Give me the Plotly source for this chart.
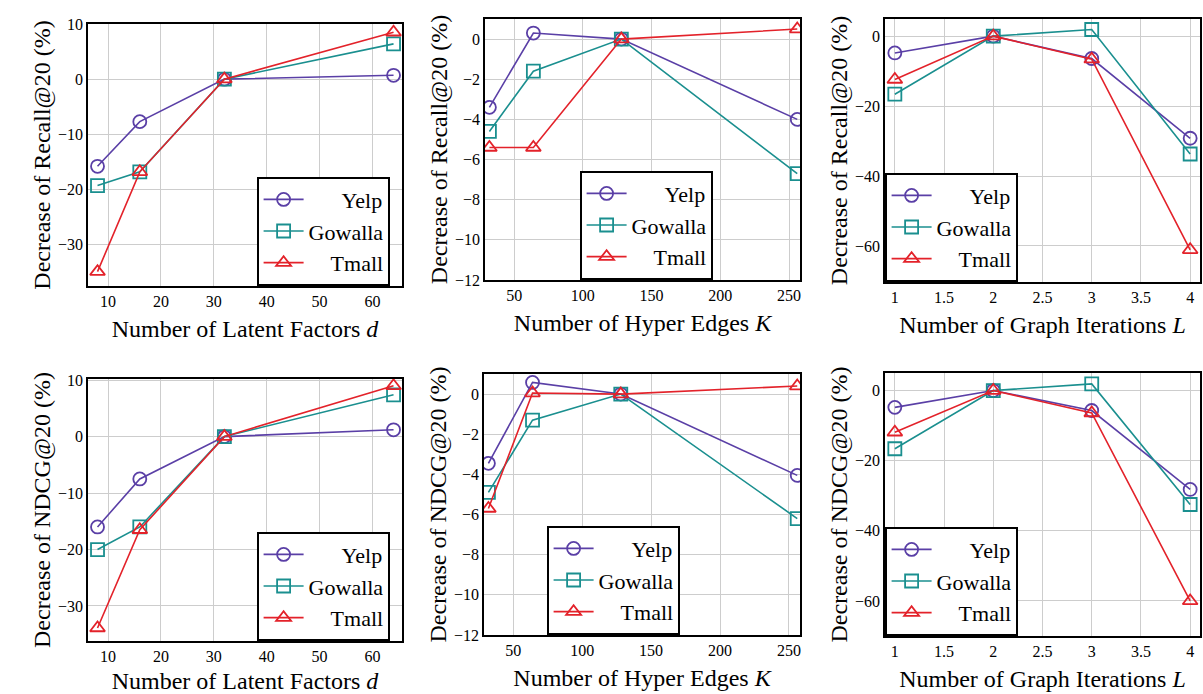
import plotly.graph_objects as go

# ---------------- data ----------------
series = ["Yelp", "Gowalla", "Tmall"]

d_vals = [8, 16, 32, 64]
k_vals = [32, 64, 128, 256]
l_vals = [1, 2, 3, 4]

recall_d = {"Yelp": [-15.8, -7.7, 0.0, 0.7],
            "Gowalla": [-19.3, -16.8, 0.0, 6.4],
            "Tmall": [-34.9, -16.8, 0.0, 8.5]}
recall_k = {"Yelp": [-3.4, 0.3, 0.0, -4.0],
            "Gowalla": [-4.6, -1.6, 0.0, -6.7],
            "Tmall": [-5.4, -5.4, 0.0, 0.5]}
recall_l = {"Yelp": [-4.8, 0.0, -6.4, -29.2],
            "Gowalla": [-16.6, 0.0, 1.9, -33.7],
            "Tmall": [-12.4, 0.0, -6.6, -61.1]}

ndcg_d = {"Yelp": [-16.0, -7.5, 0.0, 1.2],
          "Gowalla": [-20.0, -16.0, 0.0, 7.4],
          "Tmall": [-33.9, -16.5, 0.0, 9.0]}
ndcg_k = {"Yelp": [-3.45, 0.58, 0.0, -4.05],
          "Gowalla": [-4.9, -1.3, 0.0, -6.2],
          "Tmall": [-5.7, 0.05, 0.0, 0.4]}
ndcg_l = {"Yelp": [-4.8, 0.0, -5.7, -28.2],
          "Gowalla": [-16.6, 0.0, 1.9, -32.5],
          "Tmall": [-11.9, 0.0, -6.4, -60.0]}

x_titles = ["Number of Latent Factors <i>d</i>",
            "Number of Hyper Edges <i>K</i>",
            "Number of Graph Iterations <i>L</i>"]
y_titles = ["Decrease of Recall@20 (%)", "Decrease of NDCG@20 (%)"]

# ---------------- style ----------------
colors = {"Yelp": "#5a3fa6", "Gowalla": "#1a8f8f", "Tmall": "#e3222a"}
symbols = {"Yelp": "circle-open", "Gowalla": "square-open", "Tmall": "triangle-up-open"}
labels = {"Yelp": "\u00a0\u00a0\u00a0\u00a0\u00a0\u00a0Yelp",
          "Gowalla": "Gowalla",
          "Tmall": "\u00a0\u00a0\u00a0\u00a0Tmall"}
FONT = "Liberation Serif"
W, H = 1203, 694

# pixel boxes (left, right, top, bottom)
boxes = [
    (88, 402, 24, 286), (485, 800, 19, 280), (885, 1200, 19, 282),
    (88, 402, 379, 641), (484, 800, 374, 635), (885, 1200, 373, 636),
]
legend_pos = [(257, 286), (580, 280), (885, 282), (257, 641), (547, 635), (885, 636)]
xranges = [[6.2, 65.6], [28.8, 258], [0.9, 4.1]] * 2
yranges = [[-37.5, 10], [-12, 1], [-70.3, 4.9], [-36.2, 10.2], [-12, 1], [-70, 5]]
xdticks = [10, 50, 0.5] * 2
ydticks = [10, 2, 20, 10, 2, 20]

panels = [(d_vals, recall_d), (k_vals, recall_k), (l_vals, recall_l),
          (d_vals, ndcg_d), (k_vals, ndcg_k), (l_vals, ndcg_l)]

fig = go.Figure()
layout = {}
for i, (xv, data) in enumerate(panels):
    n = i + 1
    xa = "x" if n == 1 else f"x{n}"
    ya = "y" if n == 1 else f"y{n}"
    lg = "legend" if n == 1 else f"legend{n}"
    for s in series:
        fig.add_trace(go.Scatter(
            x=xv, y=data[s], name=labels[s], mode="lines+markers",
            xaxis=xa, yaxis=ya, legend=lg,
            line=dict(color=colors[s], width=1.6),
            marker=dict(symbol=symbols[s], size=13, color=colors[s],
                        line=dict(width=1.8, color=colors[s])),
        ))
    l, r, t, b = boxes[i]
    axis_common = dict(showline=True, mirror=True, linecolor="black", linewidth=1.6,
                       showgrid=True, gridcolor="#cdcdcd", gridwidth=1.3,
                       zeroline=False, ticks="", automargin=False,
                       tickfont=dict(family=FONT, size=16, color="black"))
    layout["xaxis" if n == 1 else f"xaxis{n}"] = dict(
        domain=[l / W, r / W], anchor=ya, range=xranges[i], dtick=xdticks[i],
        title=dict(text=x_titles[i % 3], standoff=11,
                   font=dict(family=FONT, size=24, color="black")),
        **axis_common)
    layout["yaxis" if n == 1 else f"yaxis{n}"] = dict(
        domain=[1 - b / H, 1 - t / H], anchor=xa, range=yranges[i], dtick=ydticks[i],
        title=dict(text=y_titles[i // 3], standoff=1,
                   font=dict(family=FONT, size=24, color="black")),
        **axis_common)
    lx, ly = legend_pos[i]
    layout[lg] = dict(x=lx / W, y=1 - ly / H, xanchor="left", yanchor="bottom",
                      bgcolor="white", bordercolor="black", borderwidth=1.6,
                      font=dict(family=FONT, size=22, color="black"),
                      itemwidth=40, tracegroupgap=0)

fig.update_layout(width=W, height=H, margin=dict(l=0, r=0, t=0, b=0),
                  paper_bgcolor="white", plot_bgcolor="white",
                  showlegend=True, **layout)
fig.write_html("out.html", config={"displayModeBar": False},
               post_script="document.body.style.margin='0';"
                           "document.body.style.overflow='hidden';")
